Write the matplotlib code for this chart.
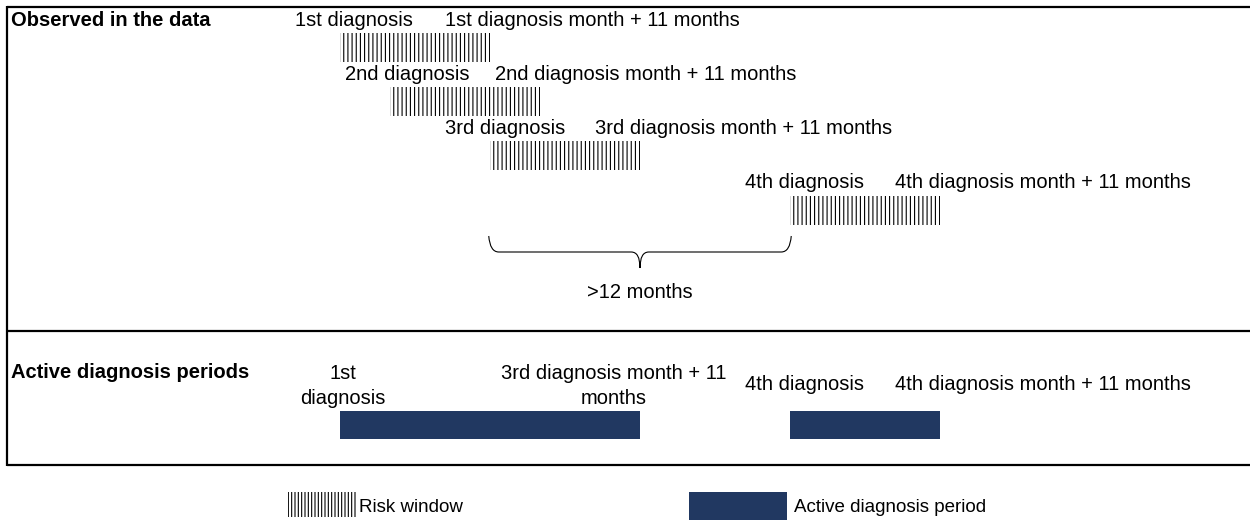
import matplotlib.pyplot as plt
from matplotlib.patches import Rectangle, PathPatch
from matplotlib.path import Path

plt.rcParams["font.family"] = ["Liberation Sans", "DejaVu Sans"]
plt.rcParams["hatch.linewidth"] = 0.8

# Timeline data (months from the 1st diagnosis)
diag_labels = ["1st", "2nd", "3rd", "4th"]
diag_months = [0, 4, 12, 36]
window_len = 12
active_starts = [0, 36]
active_ends = [24, 48]
active_start_labels = ["1st\ndiagnosis", "4th diagnosis"]
active_end_labels = ["3rd diagnosis month + 11\nmonths", "4th diagnosis month + 11 months"]
gap_label = ">12 months"

NAVY = "#213861"
W, H = 1250, 523
PX_PER_MONTH = 12.5
X_ORIGIN = 340  # pixel position of month 0
FS = 14.5


def px(x):
    """Pixel x -> month coordinate (for layout pieces only)."""
    return (x - X_ORIGIN) / PX_PER_MONTH


fig = plt.figure(figsize=(W / 100, H / 100), dpi=100)
ax = fig.add_axes([0, 0, 1, 1])
ax.set_xlim(px(0), px(W))
ax.set_ylim(H, 0)
ax.axis("off")

# Frame
frame = dict(color="black", lw=1.6, solid_capstyle="butt")
ax.plot([px(7), px(W)], [6.5, 6.5], **frame)
ax.plot([px(7), px(W)], [331, 331], **frame)
ax.plot([px(7), px(W)], [465, 465], **frame)
ax.plot([px(7), px(7)], [6, 466], **frame)

ax.text(px(11), 21, "Observed in the data", fontsize=14.5, fontweight="bold", va="center")
ax.text(px(11), 372, "Active diagnosis periods", fontsize=14.5, fontweight="bold", va="center")

# Risk windows
off = px(295) - px(X_ORIGIN)
for i, (lab, m) in enumerate(zip(diag_labels, diag_months)):
    y = 33 + 54 * i if i < 3 else 196
    ax.add_patch(Rectangle((m, y), window_len, 29, facecolor="white",
                           edgecolor="black", lw=0, hatch="||||"))
    ax.text(m + off, y - 13, f"{lab} diagnosis", fontsize=FS, va="center")
    ax.text(m + window_len + off, y - 13, f"{lab} diagnosis month + 11 months",
            fontsize=FS, va="center")

# Brace between 3rd and 4th diagnosis
x0, x1 = diag_months[2], diag_months[3]
xm = (x0 + x1) / 2
ytop, ymid, ytip, dx = 236, 252, 268, 0.7
verts = [(x0 - 0.1, ytop), (x0, ymid), (x0 + dx, ymid),
         (xm - dx, ymid), (xm, ymid), (xm, ytip),
         (xm, ymid), (xm + dx, ymid),
         (x1 - dx, ymid), (x1, ymid), (x1 + 0.1, ytop)]
codes = [Path.MOVETO, Path.CURVE3, Path.CURVE3,
         Path.LINETO, Path.CURVE3, Path.CURVE3,
         Path.CURVE3, Path.CURVE3,
         Path.LINETO, Path.CURVE3, Path.CURVE3]
ax.add_patch(PathPatch(Path(verts, codes), fill=False, color="black", lw=0.8))
ax.text(xm, 293, gap_label, fontsize=FS, ha="center", va="center")

# Active diagnosis periods
for s, e, ls, le in zip(active_starts, active_ends, active_start_labels, active_end_labels):
    ax.add_patch(Rectangle((s, 411), e - s, 28, facecolor=NAVY, lw=0))
    if "\n" in ls:
        ax.text(s + 0.2, 386, ls, fontsize=FS, ha="center", va="center", linespacing=1.35)
        ax.text(e - 2.1, 386, le, fontsize=FS, ha="center", va="center", linespacing=1.35)
    else:
        ax.text(s + off, 385, ls, fontsize=FS, va="center")
        ax.text(e + off, 385, le, fontsize=FS, va="center")

# Legend
ax.add_patch(Rectangle((px(288), 492), px(357) - px(288), 25, facecolor="white",
                       edgecolor="black", lw=0, hatch="|||||"))
ax.text(px(359), 508, "Risk window", fontsize=13.5, va="center")
ax.add_patch(Rectangle((px(689), 492), px(787) - px(689), 28, facecolor=NAVY, lw=0))
ax.text(px(794), 508, "Active diagnosis period", fontsize=13.5, va="center")

fig.savefig("out.png", dpi=100)
